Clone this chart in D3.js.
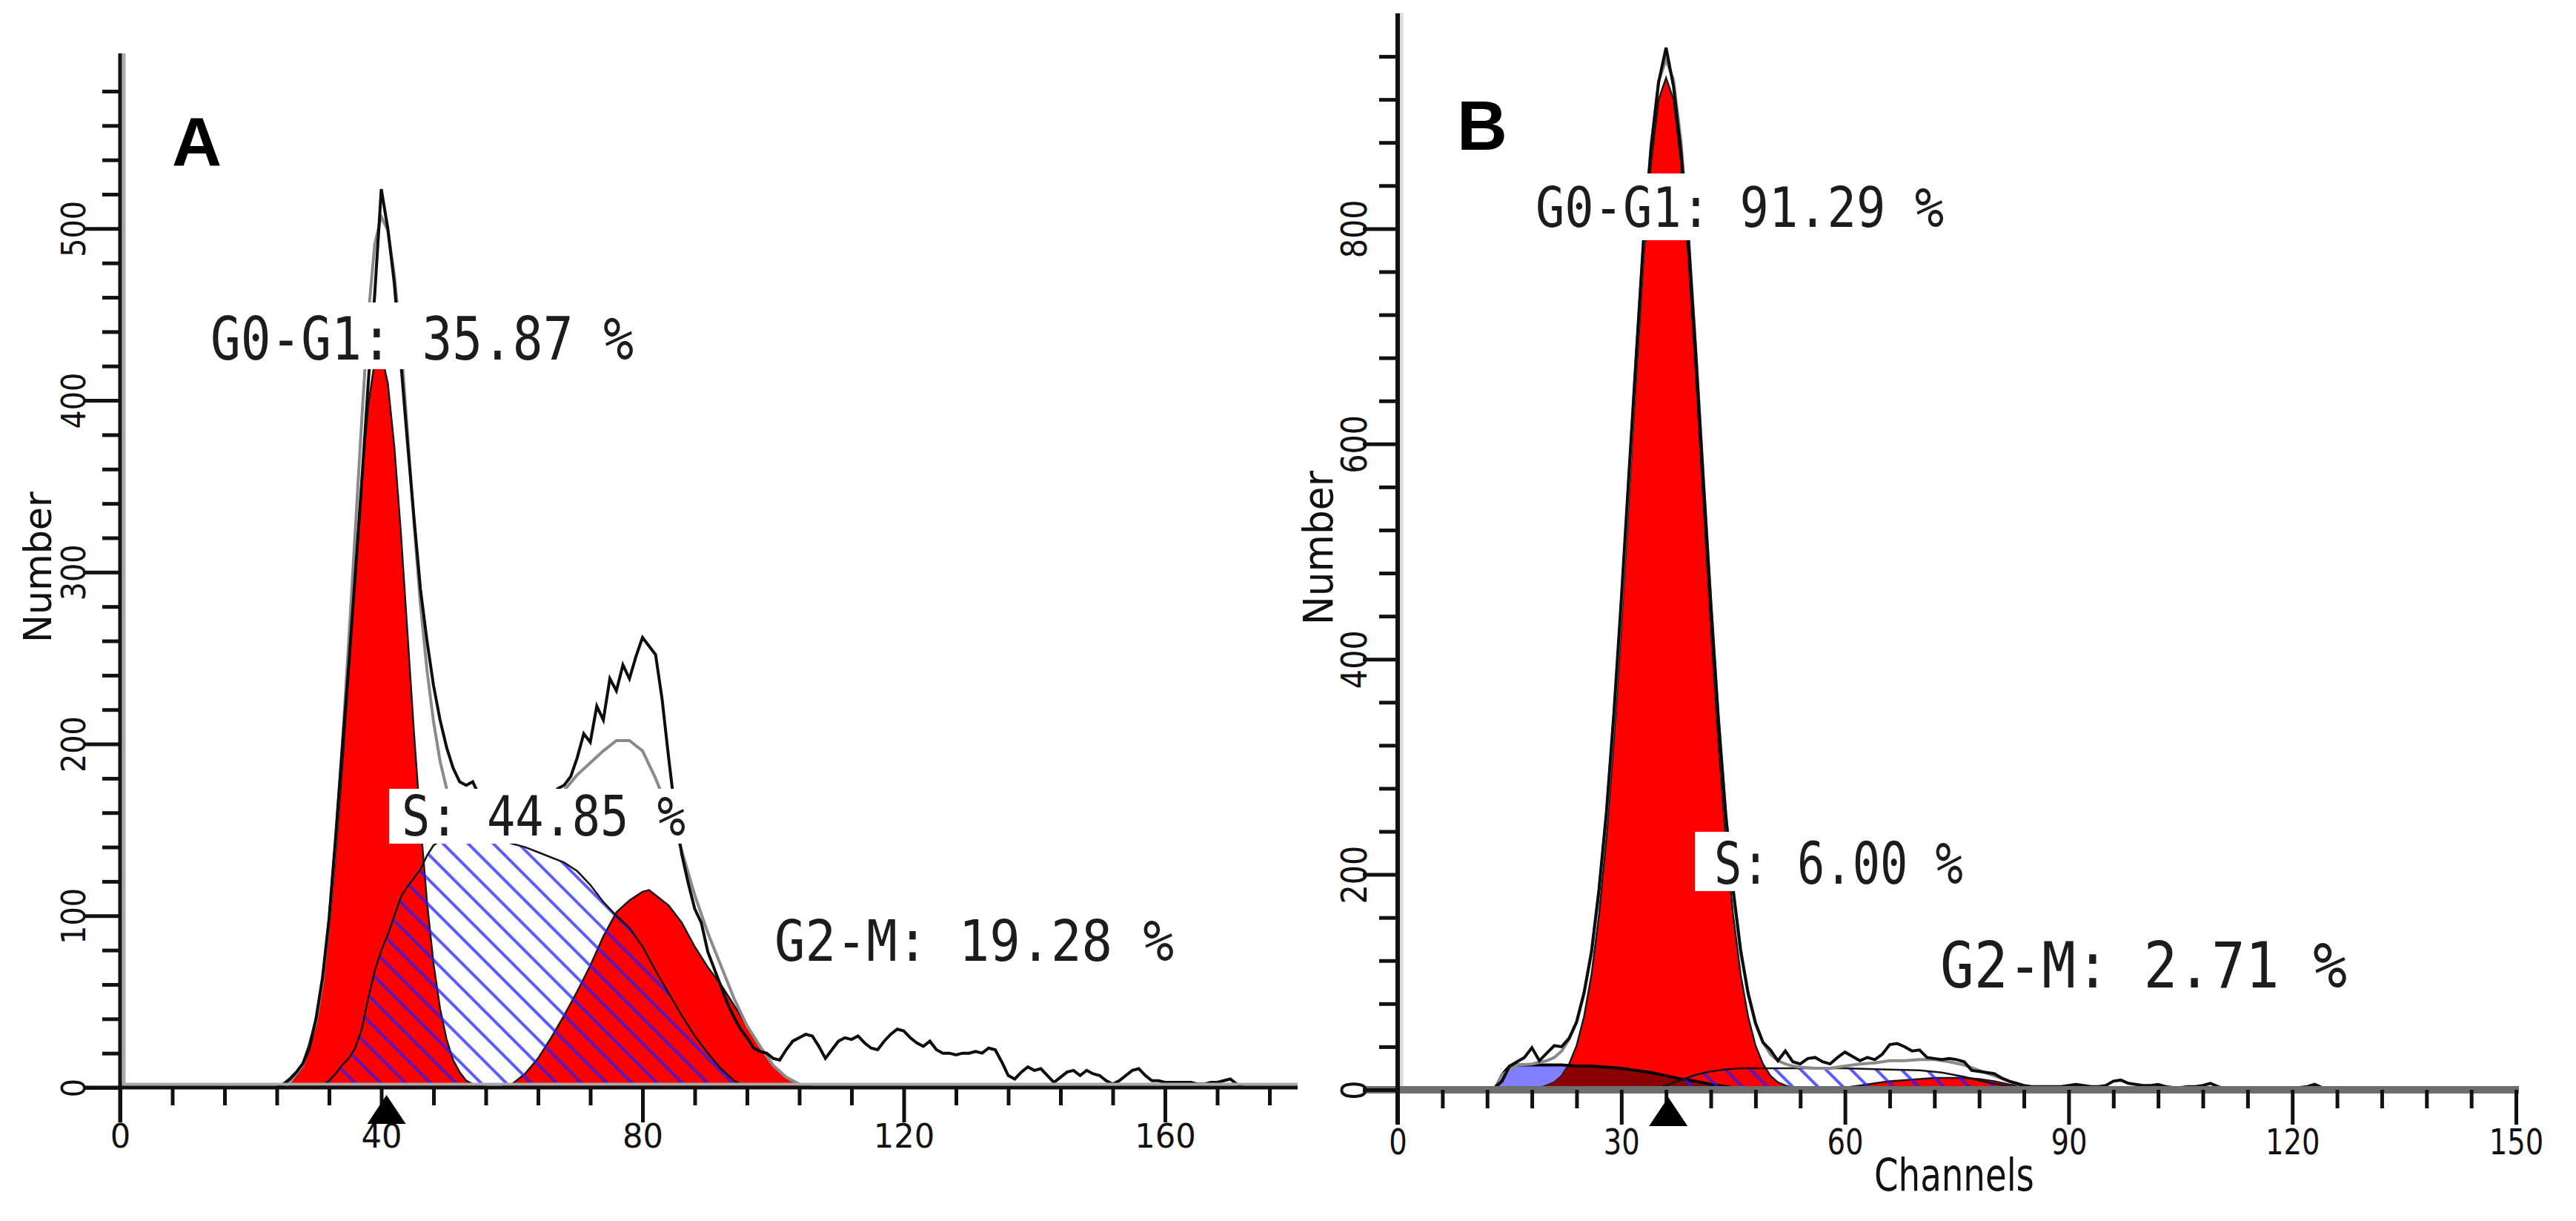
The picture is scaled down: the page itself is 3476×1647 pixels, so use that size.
<!DOCTYPE html>
<html>
<head>
<meta charset="utf-8">
<script src="https://cdn.jsdelivr.net/npm/d3@7/dist/d3.min.js"></script>
<style>
html,body{margin:0;padding:0;background:#fff;}
svg{display:block;}
</style>
</head>
<body>
<svg id="chart" width="3476" height="1647"></svg>
<script>
// ================= DATA: Panel A =================
const rawA_start = 24;
const rawA_counts = [0,2,5,9,14,24,40,64,98,145,
  196,245,298,352,410,462,523,500,468,422,
  376,332,290,260,234,214,198,186,178,176,
  178,170,166,170,164,168,161,165,159,163,
  160,166,169,174,176,181,192,206,201,222,
  214,238,231,246,238,251,262,257,252,226,
  192,160,136,119,104,96,79,69,59,49,
  41,34,29,23,21,20,17,16,22,27,
  29,31,30,24,17,22,27,29,28,30,
  26,23,22,27,31,34,33,29,26,24,
  27,22,20,20,19,20,20,21,20,23,
  22,15,7,5,9,12,10,11,7,3,
  6,9,10,7,10,8,7,4,2,4,
  7,10,11,7,4,4,3,3,3,3,
  3,2,2,3,3,4,5,2,0];
const g1A_start = 26;
const g1A_counts = [3,7,13,22,38,60,93,135,185,242,300,354,397,423,427,410,373,323,265,207,154,108,72,46,28,16,9,4,2,1,0];
const sA_channels = [30,31,32,33,34,35,36,37,38,39,40,41,42,43,44,45,46,47,48,50,52,54,56,58,60,62,64,66,68,70,72,74,76,78,80,82,84,86,88,90,92,94,96];
const sA_counts = [0,1,4,8,13,17,23,34,52,68,80,89,100,111,117,122,127,135,141,146,148,148,147,145,142,140,137,134,131,126,118,108,100,93,82,68,55,42,30,20,11,4,0];
const g2A_channels = [58,60,62,64,66,68,70,72,74,76,78,80,81,82,84,86,88,90,92,94,96,98,100,102,104,106];
const g2A_counts = [0,2,8,17,29,42,56,71,88,102,109,114,115,112,106,96,82,70,60,48,36,24,13,6,2,0];
const fitA_channels = [24,26,28,30,31,32,33,34,35,36,37,38,39,40,41,42,43,44,45,46,47,48,49,50,52,54,56,58,60,62,64,66,68,70,72,74,76,78,80,82,84,86,88,90,92,94,96,98,100,102,104,106];
const fitA_counts = [0,3,13,38,61,97,143,198,259,323,388,449,491,507,499,473,434,382,329,281,243,213,190,174,157,150,147,145,144,148,154,163,173,182,189,196,202,202,196,180,161,138,112,90,71,52,36,24,13,6,2,0];
const xTicksA = [0,40,80,120,160];
const xMinorA = [8,16,24,32,48,56,64,72,88,96,104,112,128,136,144,152,168,176];
const yTicksA = [0,100,200,300,400,500];
const yMinorA = [20,40,60,80,120,140,160,180,220,240,260,280,320,340,360,380,420,440,460,480,520,540,560,580];
const markerA = 40.8;
const labelsA = ["G0-G1: 35.87 %", "S: 44.85 %", "G2-M: 19.28 %"];

// ================= DATA: Panel B =================
const rawB_start = 12;
const rawB_counts = [0,2,8,22,26,30,39,27,34,41,
  40,48,63,90,128,186,258,350,456,570,
  682,792,876,936,968,932,872,790,682,566,
  452,346,256,186,130,90,62,44,37,27,
  36,26,24,29,30,26,24,30,35,31,
  27,30,28,33,42,43,40,36,37,30,
  29,28,29,28,26,18,17,16,15,11,
  8,6,4,3,3,3,3,3,4,5,
  4,3,3,4,8,9,6,5,4,4,
  5,3,2,2,3,3,4,6,3,1,
  0,0,0,0,0,0,0,0,1,2,
  3,5,2,0];
const g1B_start = 18;
const g1B_counts = [1,2,4,7,13,24,41,68,107,162,234,325,430,546,664,773,862,920,940,920,862,773,664,546,430,325,234,162,107,68,41,24,13,7,4,2,1];
const debrisB_channels = [13,14,15,16,18,20,22,24,26,28,30,32,34,36,38,40,42,44,46,48];
const debrisB_counts = [0,14,22,23,23,23,23,22,22,21,20,18,16,13,10,8,5,3,1,0];
const sB_channels = [34,36,38,40,42,44,46,50,55,60,65,70,73,76,79,82,84];
const sB_counts = [0,4,9,14,17,19,20,20,20,20,19,18,16,12,7,3,0];
const g2B_channels = [58,60,62,64,66,68,70,72,74,76,78,80,82,84,86,88];
const g2B_counts = [0,2,4,6,8,9,10,11,11,11,10,8,5,3,1,0];
const fitB_channels = [13,14,16,18,20,21,22,23,24,25,26,27,28,29,30,31,32,33,34,35,36,37,38,39,40,41,42,43,44,45,46,47,48,49,50,51,52,53,54,56,58,60,62,64,66,68,70,72,74,76,78,80,82,84,86,88];
const fitB_counts = [0,14,23,24,27,30,36,47,63,90,129,184,255,346,450,565,682,790,878,937,957,938,881,794,686,568,452,347,256,184,128,89,61,44,33,27,24,22,21,20,20,22,24,25,27,27,28,28,26,23,18,13,8,3,1,0];
const xTicksB = [0,30,60,90,120,150];
const xMinorB = [6,12,18,24,36,42,48,54,66,72,78,84,96,102,108,114,126,132,138,144];
const yTicksB = [0,200,400,600,800];
const yMinorB = [40,80,120,160,240,280,320,360,440,480,520,560,640,680,720,760,840,880,920,960];
const markerB = 36.3;
const labelsB = ["G0-G1: 91.29 %", "S: 6.00 %", "G2-M: 2.71 %"];

// ================= DRAWING =================
const svg = d3.select("#chart");
svg.append("rect").attr("width", 3476).attr("height", 1647).attr("fill", "#fff");
const defs = svg.append("defs");
const pat = defs.append("pattern").attr("id", "hatch")
  .attr("patternUnits", "userSpaceOnUse").attr("width", 24).attr("height", 24)
  .attr("patternTransform", "rotate(-45)");
pat.append("rect").attr("x", 0).attr("y", 0).attr("width", 4).attr("height", 24)
  .attr("fill", "#1f1fff").attr("fill-opacity", 0.72);

const seq = (start, vals) => vals.map((v, i) => [start + i, v]);
const zip = (ch, vals) => ch.map((c, i) => [c, vals[i]]);

const xA = d3.scaleLinear().domain([0, 180]).range([162, 1748.25]);
const yA = d3.scaleLinear().domain([0, 602]).range([1467, 72]);
const xB = d3.scaleLinear().domain([0, 150]).range([1886, 3395]);
const yB = d3.scaleLinear().domain([0, 1000]).range([1470, 18]);

function drawPanel(p) {
  const area = d3.area().x(d => p.x(d[0])).y0(p.y(0)).y1(d => p.y(d[1]));
  const line = d3.line().x(d => p.x(d[0])).y(d => p.y(d[1]));
  const g = svg.append("g");
  if (p.debris) g.append("path").attr("d", area(p.debris)).attr("fill", "#8080ff");
  [p.g1, p.g2].forEach(c => g.append("path").attr("d", area(c))
    .attr("fill", "#ff0000").attr("stroke", "#1a1a1a").attr("stroke-width", 2.5));
  if (p.debris) {
    const cid = p.id + "clipG1";
    defs.append("clipPath").attr("id", cid).append("path").attr("d", area(p.g1));
    g.append("path").attr("d", area(p.debris)).attr("fill", "#8b0000").attr("clip-path", `url(#${cid})`);
    g.append("path").attr("d", line(p.debris)).attr("fill", "none").attr("stroke", "#000").attr("stroke-width", 4);
  }
  g.append("path").attr("d", area(p.s)).attr("fill", "url(#hatch)");
  g.append("path").attr("d", line(p.s)).attr("fill", "none").attr("stroke", "#151515").attr("stroke-width", 2.5);
  g.append("path").attr("d", line(p.fit)).attr("fill", "none").attr("stroke", "#8a8a8a").attr("stroke-width", 4);
  g.append("path").attr("d", line(p.raw)).attr("fill", "none").attr("stroke", "#0d0d0d").attr("stroke-width", 4);
}

drawPanel({id: "A", x: xA, y: yA,
  g1: seq(g1A_start, g1A_counts), g2: zip(g2A_channels, g2A_counts),
  s: zip(sA_channels, sA_counts), fit: zip(fitA_channels, fitA_counts),
  raw: seq(rawA_start, rawA_counts)});
drawPanel({id: "B", x: xB, y: yB,
  g1: seq(g1B_start, g1B_counts), g2: zip(g2B_channels, g2B_counts),
  s: zip(sB_channels, sB_counts), fit: zip(fitB_channels, fitB_counts),
  raw: seq(rawB_start, rawB_counts), debris: zip(debrisB_channels, debrisB_counts)});

function drawAxes(o) {
  const g = svg.append("g");
  const x0 = o.x(0), y0 = o.y(0);
  if (o.xShadow) g.append("line").attr("x1", x0).attr("x2", o.xEnd).attr("y1", y0 - 4.5).attr("y2", y0 - 4.5)
    .attr("stroke", o.xShadow).attr("stroke-width", 4);
  if (o.yShadow) g.append("line").attr("x1", x0 + 5).attr("x2", x0 + 5).attr("y1", o.yTop).attr("y2", y0)
    .attr("stroke", o.yShadow).attr("stroke-width", 5);
  g.append("line").attr("x1", x0 - o.majorLen).attr("x2", o.xEnd).attr("y1", y0).attr("y2", y0)
    .attr("stroke", o.xColor).attr("stroke-width", o.xWidth);
  g.append("line").attr("x1", x0).attr("x2", x0).attr("y1", o.yTop).attr("y2", y0 + o.majorLen)
    .attr("stroke", "#111").attr("stroke-width", o.yWidth);

  const gxm = g.append("g").attr("transform", `translate(0,${y0})`)
    .call(d3.axisBottom(o.x).tickValues(o.xMinor).tickSize(o.minorLen).tickSizeOuter(0).tickFormat(""));
  const gxM = g.append("g").attr("transform", `translate(0,${y0})`)
    .call(d3.axisBottom(o.x).tickValues(o.xTicks).tickSize(o.majorLen).tickSizeOuter(0));
  const gym = g.append("g").attr("transform", `translate(${x0},0)`)
    .call(d3.axisLeft(o.y).tickValues(o.yMinor).tickSize(o.minorLen).tickSizeOuter(0).tickFormat(""));
  const gyM = g.append("g").attr("transform", `translate(${x0},0)`)
    .call(d3.axisLeft(o.y).tickValues(o.yTicks).tickSize(o.majorLen).tickSizeOuter(0));
  [gxm, gxM, gym, gyM].forEach(a => {
    a.select(".domain").remove();
    a.selectAll(".tick line").attr("stroke", "#111").attr("stroke-width", 5);
  });
  // digits: DejaVu Sans digit advance = 0.636 em; pick the size that gives the measured width,
  // then stretch vertically to the measured digit height (0.729 em)
  const xfs = o.xCharW / 0.636, xsy = o.xDigitH / (0.729 * xfs);
  gxM.selectAll(".tick text")
    .attr("y", null).attr("dy", null)
    .attr("transform", `translate(0,${o.xLabelBase - y0}) scale(1,${xsy})`)
    .attr("font-family", "DejaVu Sans").attr("font-size", xfs).attr("fill", "#111")
    .attr("text-anchor", "middle");
  const yfs = o.yCharW / 0.636, ysy = o.yDigitH / (0.729 * yfs);
  gyM.selectAll(".tick text")
    .attr("x", 0).attr("dy", null)
    .attr("transform", `translate(${o.yLabelBase - x0},0) rotate(-90) scale(1,${ysy})`)
    .attr("font-family", "DejaVu Sans").attr("font-size", yfs).attr("fill", "#111")
    .attr("text-anchor", "middle");
  // position marker
  const mx = o.x(o.marker);
  g.append("path").attr("d", `M${mx - 26},${y0 + 49} L${mx},${y0 + 10} L${mx + 26},${y0 + 49} Z`).attr("fill", "#000");
}

drawAxes({x: xA, y: yA, xEnd: 1751, yTop: 72, majorLen: 47, minorLen: 24,
  xColor: "#111", xWidth: 5, yWidth: 5, xShadow: "#aaaaaa", yShadow: "#aaaaaa",
  xTicks: xTicksA, xMinor: xMinorA, yTicks: yTicksA, yMinor: yMinorA,
  xLabelBase: 1548, xCharW: 27.5, xDigitH: 32, yLabelBase: 115, yCharW: 25.3, yDigitH: 32, marker: markerA});
drawAxes({x: xB, y: yB, xEnd: 3399, yTop: 18, majorLen: 47, minorLen: 25,
  xColor: "#6e6e6e", xWidth: 10, yWidth: 6, xShadow: null, yShadow: "#dcdcdc",
  xTicks: xTicksB, xMinor: xMinorB, yTicks: yTicksB, yMinor: yMinorB,
  xLabelBase: 1557, xCharW: 24.5, xDigitH: 35, yLabelBase: 1844, yCharW: 26.3, yDigitH: 35, marker: markerB});

// ---------- phase labels (monospace, advance 0.602 em, cap 0.729 em) ----------
function drawLabels(texts, specs) {
  const g = svg.append("g");
  texts.forEach((t, i) => {
    const s = specs[i];
    if (s.box) g.append("rect").attr("x", s.box[0]).attr("y", s.box[1]).attr("width", s.box[2]).attr("height", s.box[3]).attr("fill", "#fff");
    const fs = s.len / (t.length * 0.602);
    const sy = s.cap / (0.729 * fs);
    g.append("text").attr("transform", `translate(${s.x},${s.y}) scale(1,${sy})`).text(t)
      .attr("font-family", "DejaVu Sans Mono").attr("font-size", fs).attr("fill", "#1c1c1c");
  });
}
drawLabels(labelsA, [
  {x: 284, y: 485, len: 571, cap: 59, box: [268, 408, 604, 90]},
  {x: 542, y: 1127, len: 383, cap: 54, box: [525, 1064, 405, 74]},
  {x: 1045, y: 1296, len: 539, cap: 56}
]);
drawLabels(labelsB, [
  {x: 2072, y: 306, len: 551, cap: 54, box: [2055, 234, 585, 90]},
  {x: 2313, y: 1192, len: 336, cap: 57, box: [2287, 1122, 373, 80]},
  {x: 2618, y: 1332, len: 549, cap: 62}
]);

// ---------- panel letters & axis titles ----------
svg.append("text").attr("x", 232).attr("y", 223).text("A")
  .attr("font-family", "Liberation Sans").attr("font-weight", "bold").attr("font-size", 93).attr("fill", "#000");
svg.append("text").attr("x", 1966).attr("y", 202).text("B")
  .attr("font-family", "Liberation Sans").attr("font-weight", "bold").attr("font-size", 94).attr("fill", "#000");

// "Number": DejaVu Sans width 4.017 em
svg.append("text").text("Number").attr("transform", "translate(69,765) rotate(-90)")
  .attr("text-anchor", "middle").attr("font-family", "DejaVu Sans").attr("font-size", 204 / 4.017).attr("fill", "#111");
svg.append("text").text("Number").attr("transform", "translate(1798,739) rotate(-90) scale(1,1.08)")
  .attr("text-anchor", "middle").attr("font-family", "DejaVu Sans").attr("font-size", 208 / 4.017).attr("fill", "#111");
// "Channels": DejaVu Sans width 4.627 em
svg.append("text").text("Channels").attr("transform", "translate(2529,1606) scale(1,1.3)")
  .attr("font-family", "DejaVu Sans").attr("font-size", 216 / 4.627).attr("fill", "#111");
</script>
</body>
</html>
